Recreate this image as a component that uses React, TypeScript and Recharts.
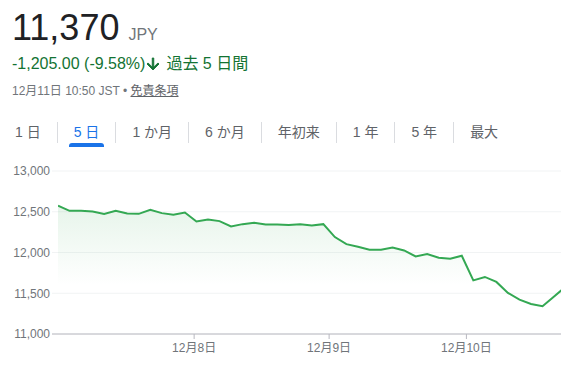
import { AreaChart, Area, XAxis, YAxis, CartesianGrid } from 'recharts';

// 30-minute closes, 12 per trading day (12/7 .. 12/11 open)
const prices = [
    12575, 12511, 12511, 12502, 12474, 12511, 12478, 12474, 12523, 12483, 12462, 12490,
    12380, 12404, 12385, 12319, 12348, 12364, 12343, 12343, 12336, 12348, 12331, 12348,
    12189, 12103, 12070, 12034, 12034, 12062, 12025, 11952, 11981, 11936, 11924, 11960,
    11658, 11700, 11639, 11504, 11422, 11369, 11340, 11460, 11580,
];
const dayTicks = [11.8, 23.5, 35.4];
const dayLabels = ['12月8日', '12月9日', '12月10日'];
const priceTicks = [11000, 11500, 12000, 12500, 13000];
const ranges = ['1 日', '5 日', '1 か月', '6 か月', '年初来', '1 年', '5 年', '最大'];
const activeRange = '5 日';

const data = prices.map((price, i) => ({ i, price }));

const font = 'Arial, "Liberation Sans", "Noto Sans CJK JP", sans-serif';
const green = '#137333';
const grey = '#70757a';

export default function App() {
    return (
        <div style={{ position: 'absolute', left: 0, top: 0, width: 561, height: 366, overflow: 'hidden', background: '#fff', fontFamily: font }}>
            <div style={{ position: 'absolute', left: 12, top: 10, display: 'flex', alignItems: 'baseline', lineHeight: 1 }}>
                <span style={{ fontSize: 36, color: '#202124' }}>11,370</span>
                <span style={{ fontSize: 16, color: grey, marginLeft: 9 }}>JPY</span>
            </div>
            <div style={{ position: 'absolute', left: 12, top: 55, fontSize: 16, lineHeight: '16px', color: green, display: 'flex', alignItems: 'center', whiteSpace: 'nowrap' }}>
                <span>-1,205.00 (-9.58%)</span>
                <svg width={18} height={18} viewBox="0 0 24 24" style={{ margin: '0 4px 0 -1px' }}>
                    <path fill={green} stroke={green} strokeWidth={1.2} strokeLinejoin="round" d="M20 12l-1.41-1.41L13 16.17V4h-2v12.17l-5.58-5.59L4 12l8 8 8-8z" />
                </svg>
                <span>過去 5 日間</span>
            </div>
            <div style={{ position: 'absolute', left: 12, top: 85, fontSize: 12, lineHeight: '12px', color: grey, whiteSpace: 'nowrap' }}>
                12月11日 10:50 JST • <span style={{ color: '#5f6368', textDecoration: 'underline' }}>免責条項</span>
            </div>

            <div style={{ position: 'absolute', left: -1, top: 122, display: 'flex', height: 21 }}>
                {ranges.map((r, k) => (
                    <div
                        key={r}
                        style={{
                            position: 'relative',
                            padding: '0 16px',
                            borderLeft: k === 0 ? 'none' : '1px solid #dadce0',
                            fontSize: 14,
                            lineHeight: '21px',
                            color: r === activeRange ? '#1a73e8' : '#5f6368',
                            whiteSpace: 'nowrap',
                        }}
                    >
                        {r}
                        {r === activeRange && (
                            <div style={{ position: 'absolute', left: 11, right: 11, bottom: -4, height: 4, background: '#1a73e8', borderRadius: '3px 3px 0 0' }} />
                        )}
                    </div>
                ))}
            </div>

            <div style={{ position: 'absolute', left: 0, top: 150 }}>
                <AreaChart width={561} height={216} data={data} margin={{ top: 21, right: 0, bottom: 2, left: 0 }}>
                    <defs>
                        <linearGradient id="fillGreen" x1="0" y1="0" x2="0" y2="1">
                            <stop offset="0%" stopColor="#34a853" stopOpacity={0.2} />
                            <stop offset="62%" stopColor="#34a853" stopOpacity={0} />
                        </linearGradient>
                    </defs>
                    <CartesianGrid vertical={false} stroke="#f1f3f4" />
                    <XAxis
                        dataKey="i"
                        type="number"
                        domain={[0, 43.6]}
                        allowDataOverflow
                        padding={{ left: 6, right: 0 }}
                        ticks={dayTicks}
                        tickFormatter={(v: number) => dayLabels[dayTicks.indexOf(v)] ?? ''}
                        stroke="#b8b8c0"
                        tickSize={5}
                        tickMargin={4}
                        height={30}
                        tick={{ fill: grey, fontSize: 12, fontFamily: font }}
                    />
                    <YAxis
                        domain={[11000, 13000]}
                        ticks={priceTicks}
                        width={52}
                        axisLine={false}
                        tickLine={false}
                        tickSize={0}
                        tickMargin={2}
                        tickFormatter={(v: number) => v.toLocaleString('en-US')}
                        tick={{ fill: grey, fontSize: 12, fontFamily: font }}
                    />
                    <Area
                        type="linear"
                        dataKey="price"
                        stroke="#34a853"
                        strokeWidth={2}
                        fill="url(#fillGreen)"
                        dot={false}
                        activeDot={false}
                        isAnimationActive={false}
                    />
                </AreaChart>
            </div>
        </div>
    );
}
